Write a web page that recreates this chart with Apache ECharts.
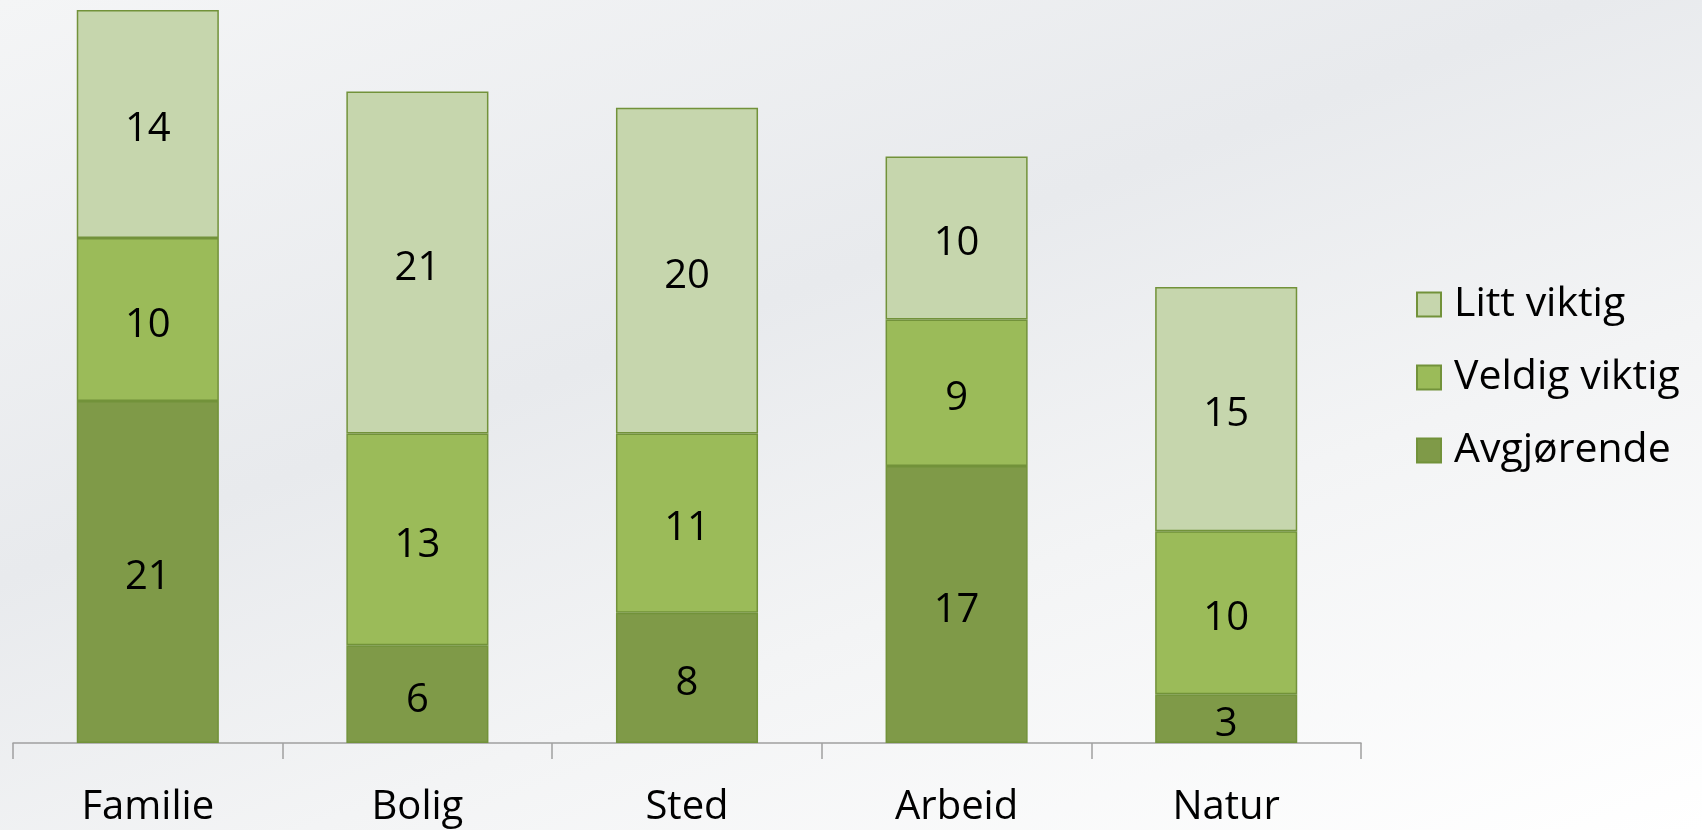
<!DOCTYPE html>
<html>
<head>
<meta charset="utf-8">
<script src="https://cdn.jsdelivr.net/npm/echarts@6/dist/echarts.min.js"></script>
<style>
    html, body { margin: 0; padding: 0; }
    #main {
        width: 1702px; height: 830px;
        background: linear-gradient(160deg, #f4f5f6 0%, #e8eaed 40%, #f3f4f5 65%, #ffffff 100%);
    }
</style>
</head>
<body>
<div id="main"></div>
<script>
var categories = ['Familie', 'Bolig', 'Sted', 'Arbeid', 'Natur'];
var avgjorende = [21, 6, 8, 17, 3];
var veldigViktig = [10, 13, 11, 9, 10];
var littViktig = [14, 21, 20, 10, 15];

(function () {
    var dom = document.getElementById("main");
    var myChart = echarts.init(dom, null, { renderer: 'canvas' });
    var option = null;

    var font = '"Open Sans", "Noto Sans", sans-serif';
    var labelStyle = {
        show: true,
        position: 'inside',
        offset: [0, 6],
        color: '#000',
        fontSize: 40,
        fontFamily: font
    };

    function bar(name, data, color) {
        return {
            name: name,
            type: 'bar',
            stack: 'total',
            barWidth: '52.7%',
            data: data,
            label: labelStyle,
            itemStyle: {
                color: color,
                borderColor: '#72923a',
                borderWidth: 1.5
            }
        };
    }

    option = {
        animation: false,
        grid: { left: 13, right: 341, top: 10, bottom: 87 },
        legend: {
            orient: 'vertical',
            left: 1411,
            top: 279,
            icon: 'rect',
            itemWidth: 24,
            itemHeight: 24,
            itemGap: 32,
            data: ['Litt viktig', 'Veldig viktig', 'Avgjørende'],
            textStyle: {
                color: '#000',
                fontSize: 41,
                fontFamily: font,
                padding: [0, 0, 0, 8]
            }
        },
        xAxis: {
            type: 'category',
            data: categories,
            axisLine: { lineStyle: { color: '#a0a0a0', width: 1.5 } },
            axisTick: { show: true, length: 16, lineStyle: { color: '#a0a0a0', width: 1.5 } },
            axisLabel: {
                color: '#000',
                fontSize: 40,
                fontFamily: font,
                margin: 45
            }
        },
        yAxis: {
            type: 'value',
            min: 0,
            max: 45,
            show: false,
            splitLine: { show: false }
        },
        series: [
            bar('Avgjørende', avgjorende, '#7f9a48'),
            bar('Veldig viktig', veldigViktig, '#9bbb59'),
            bar('Litt viktig', littViktig, '#c6d6ad')
        ]
    };
    if (option && typeof option === "object") {
        myChart.setOption(option, true);
    }
})();
</script>
</body>
</html>
